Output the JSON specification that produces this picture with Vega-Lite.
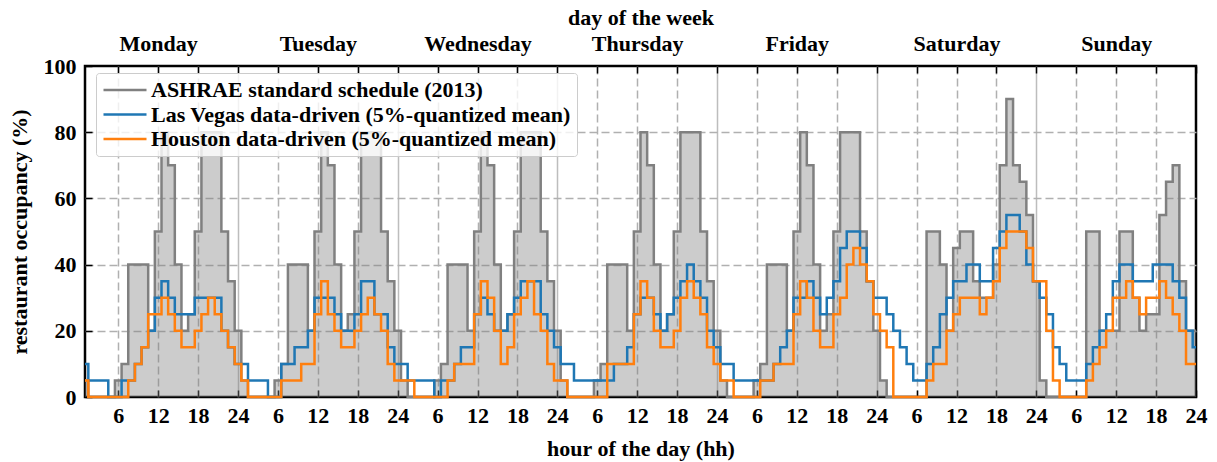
{
  "$schema": "https://vega.github.io/schema/vega-lite/v6.json",
  "width": 1111,
  "height": 331,
  "autosize": {"type": "none"},
  "padding": {"left": 85, "top": 66, "right": 21, "bottom": 65},
  "background": "white",
  "config": {
    "font": "Liberation Serif",
    "view": {"stroke": "black", "strokeWidth": 2.5},
    "axis": {
      "labelFont": "Liberation Serif", "labelFontWeight": "bold", "labelFontSize": 22, "labelColor": "black",
      "titleFont": "Liberation Serif", "titleFontWeight": "bold", "titleFontSize": 22, "titleColor": "black",
      "domain": false, "tickColor": "black", "tickWidth": 1.5, "tickSize": -7,
      "gridColor": "#b0b0b0", "gridWidth": 1.5, "gridOpacity": 1,
      "labelOverlap": false, "labelFlush": false
    }
  },
  "data": {"values": [
    {"x":1,"a":5,"b":10,"o":5},{"x":2,"a":0,"b":5,"o":0},{"x":3,"a":0,"b":5,"o":0},{"x":4,"a":0,"b":5,"o":0},
    {"x":5,"a":0,"b":0,"o":0},{"x":6,"a":5,"b":0,"o":0},{"x":7,"a":10,"b":5,"o":0},{"x":8,"a":40,"b":5,"o":5},
    {"x":9,"a":40,"b":10,"o":10},{"x":10,"a":40,"b":15,"o":15},{"x":11,"a":20,"b":20,"o":25},{"x":12,"a":50,"b":30,"o":25},
    {"x":13,"a":80,"b":35,"o":30},{"x":14,"a":70,"b":30,"o":25},{"x":15,"a":40,"b":25,"o":20},{"x":16,"a":20,"b":25,"o":15},
    {"x":17,"a":25,"b":25,"o":15},{"x":18,"a":50,"b":30,"o":20},{"x":19,"a":80,"b":30,"o":25},{"x":20,"a":80,"b":30,"o":30},
    {"x":21,"a":80,"b":30,"o":25},{"x":22,"a":50,"b":20,"o":20},{"x":23,"a":35,"b":15,"o":15},{"x":24,"a":20,"b":10,"o":10},

    {"x":25,"a":5,"b":10,"o":5},{"x":26,"a":0,"b":5,"o":0},{"x":27,"a":0,"b":5,"o":0},{"x":28,"a":0,"b":5,"o":0},
    {"x":29,"a":0,"b":0,"o":0},{"x":30,"a":5,"b":0,"o":0},{"x":31,"a":10,"b":10,"o":5},{"x":32,"a":40,"b":10,"o":5},
    {"x":33,"a":40,"b":15,"o":5},{"x":34,"a":40,"b":15,"o":10},{"x":35,"a":20,"b":20,"o":10},{"x":36,"a":50,"b":30,"o":25},
    {"x":37,"a":80,"b":30,"o":35},{"x":38,"a":70,"b":30,"o":25},{"x":39,"a":40,"b":25,"o":20},{"x":40,"a":20,"b":20,"o":15},
    {"x":41,"a":25,"b":20,"o":15},{"x":42,"a":50,"b":25,"o":20},{"x":43,"a":80,"b":35,"o":25},{"x":44,"a":80,"b":35,"o":30},
    {"x":45,"a":80,"b":25,"o":25},{"x":46,"a":50,"b":25,"o":20},{"x":47,"a":35,"b":15,"o":10},{"x":48,"a":20,"b":10,"o":5},

    {"x":49,"a":5,"b":10,"o":5},{"x":50,"a":0,"b":5,"o":5},{"x":51,"a":0,"b":5,"o":0},{"x":52,"a":0,"b":5,"o":0},
    {"x":53,"a":0,"b":5,"o":0},{"x":54,"a":5,"b":0,"o":0},{"x":55,"a":10,"b":5,"o":0},{"x":56,"a":40,"b":5,"o":5},
    {"x":57,"a":40,"b":10,"o":10},{"x":58,"a":40,"b":15,"o":10},{"x":59,"a":20,"b":15,"o":10},{"x":60,"a":50,"b":25,"o":25},
    {"x":61,"a":80,"b":30,"o":35},{"x":62,"a":70,"b":25,"o":30},{"x":63,"a":40,"b":20,"o":20},{"x":64,"a":20,"b":20,"o":10},
    {"x":65,"a":25,"b":25,"o":15},{"x":66,"a":50,"b":30,"o":25},{"x":67,"a":80,"b":35,"o":30},{"x":68,"a":80,"b":35,"o":35},
    {"x":69,"a":80,"b":35,"o":25},{"x":70,"a":50,"b":25,"o":20},{"x":71,"a":35,"b":20,"o":10},{"x":72,"a":20,"b":15,"o":5},

    {"x":73,"a":5,"b":10,"o":5},{"x":74,"a":0,"b":10,"o":0},{"x":75,"a":0,"b":5,"o":0},{"x":76,"a":0,"b":5,"o":0},
    {"x":77,"a":0,"b":5,"o":0},{"x":78,"a":5,"b":5,"o":0},{"x":79,"a":10,"b":5,"o":0},{"x":80,"a":40,"b":5,"o":10},
    {"x":81,"a":40,"b":10,"o":10},{"x":82,"a":40,"b":10,"o":10},{"x":83,"a":20,"b":15,"o":10},{"x":84,"a":50,"b":25,"o":25},
    {"x":85,"a":80,"b":30,"o":35},{"x":86,"a":70,"b":30,"o":30},{"x":87,"a":40,"b":25,"o":20},{"x":88,"a":20,"b":20,"o":15},
    {"x":89,"a":25,"b":25,"o":15},{"x":90,"a":50,"b":30,"o":20},{"x":91,"a":80,"b":35,"o":30},{"x":92,"a":80,"b":40,"o":35},
    {"x":93,"a":80,"b":35,"o":30},{"x":94,"a":50,"b":30,"o":25},{"x":95,"a":35,"b":20,"o":15},{"x":96,"a":20,"b":15,"o":10},

    {"x":97,"a":5,"b":10,"o":5},{"x":98,"a":0,"b":10,"o":5},{"x":99,"a":0,"b":5,"o":0},{"x":100,"a":0,"b":5,"o":0},
    {"x":101,"a":0,"b":5,"o":0},{"x":102,"a":5,"b":5,"o":0},{"x":103,"a":10,"b":5,"o":5},{"x":104,"a":40,"b":5,"o":5},
    {"x":105,"a":40,"b":10,"o":10},{"x":106,"a":40,"b":15,"o":10},{"x":107,"a":20,"b":20,"o":10},{"x":108,"a":50,"b":30,"o":25},
    {"x":109,"a":80,"b":30,"o":35},{"x":110,"a":70,"b":35,"o":30},{"x":111,"a":40,"b":30,"o":20},{"x":112,"a":20,"b":25,"o":15},
    {"x":113,"a":25,"b":30,"o":15},{"x":114,"a":50,"b":35,"o":25},{"x":115,"a":80,"b":45,"o":30},{"x":116,"a":80,"b":50,"o":40},
    {"x":117,"a":80,"b":50,"o":45},{"x":118,"a":50,"b":45,"o":40},{"x":119,"a":35,"b":35,"o":35},{"x":120,"a":20,"b":30,"o":25},

    {"x":121,"a":5,"b":30,"o":20},{"x":122,"a":0,"b":25,"o":15},{"x":123,"a":0,"b":20,"o":0},{"x":124,"a":0,"b":15,"o":0},
    {"x":125,"a":0,"b":10,"o":0},{"x":126,"a":0,"b":5,"o":0},{"x":127,"a":0,"b":5,"o":0},{"x":128,"a":50,"b":10,"o":5},
    {"x":129,"a":50,"b":15,"o":10},{"x":130,"a":40,"b":25,"o":10},{"x":131,"a":20,"b":30,"o":20},{"x":132,"a":45,"b":35,"o":25},
    {"x":133,"a":50,"b":35,"o":30},{"x":134,"a":50,"b":40,"o":30},{"x":135,"a":35,"b":40,"o":30},{"x":136,"a":30,"b":35,"o":25},
    {"x":137,"a":30,"b":35,"o":30},{"x":138,"a":40,"b":45,"o":35},{"x":139,"a":70,"b":50,"o":45},{"x":140,"a":90,"b":55,"o":50},
    {"x":141,"a":70,"b":55,"o":50},{"x":142,"a":65,"b":50,"o":50},{"x":143,"a":55,"b":40,"o":45},{"x":144,"a":35,"b":35,"o":35},

    {"x":145,"a":5,"b":30,"o":35},{"x":146,"a":0,"b":25,"o":20},{"x":147,"a":0,"b":15,"o":5},{"x":148,"a":0,"b":10,"o":0},
    {"x":149,"a":0,"b":5,"o":0},{"x":150,"a":0,"b":5,"o":0},{"x":151,"a":0,"b":5,"o":0},{"x":152,"a":50,"b":10,"o":5},
    {"x":153,"a":50,"b":15,"o":10},{"x":154,"a":20,"b":20,"o":15},{"x":155,"a":20,"b":25,"o":20},{"x":156,"a":20,"b":35,"o":30},
    {"x":157,"a":50,"b":40,"o":30},{"x":158,"a":50,"b":40,"o":35},{"x":159,"a":30,"b":35,"o":30},{"x":160,"a":20,"b":35,"o":25},
    {"x":161,"a":25,"b":35,"o":30},{"x":162,"a":25,"b":40,"o":30},{"x":163,"a":55,"b":40,"o":35},{"x":164,"a":65,"b":40,"o":30},
    {"x":165,"a":70,"b":35,"o":25},{"x":166,"a":35,"b":30,"o":20},{"x":167,"a":20,"b":20,"o":10},{"x":168,"a":20,"b":15,"o":10}
  ]},
  "layer": [
    {
      "mark": {"type": "area", "interpolate": "step", "color": "#808080", "opacity": 0.4},
      "encoding": {
        "x": {
          "field": "x", "type": "quantitative",
          "scale": {"domain": [1, 168], "nice": false, "zero": false},
          "axis": {
            "orient": "bottom",
            "values": [6,12,18,24,30,36,42,48,54,60,66,72,78,84,90,96,102,108,114,120,126,132,138,144,150,156,162,168],
            "labelExpr": "datum.value % 24 == 0 ? '24' : '' + (datum.value % 24)",
            "title": "hour of the day (hh)",
            "grid": true,
            "gridDash": {"condition": {"test": "datum.value % 24 == 0", "value": []}, "value": [8, 4]},
            "gridColor": {"condition": {"test": "datum.value % 24 == 0", "value": "#bdbdbd"}, "value": "#b0b0b0"},
            "gridOpacity": {"condition": {"test": "datum.value >= 168", "value": 0}, "value": 1},
            "labelPadding": 15, "titlePadding": 12
          }
        },
        "y": {
          "field": "a", "type": "quantitative",
          "scale": {"domain": [0, 100], "nice": false},
          "axis": {
            "values": [0,20,40,60,80,100], "title": "restaurant occupancy (%)", "grid": true,
            "gridDash": [8, 4],
            "gridOpacity": {"condition": {"test": "datum.value == 0 || datum.value == 100", "value": 0}, "value": 1},
            "labelPadding": 16, "titlePadding": 12
          }
        }
      }
    },
    {
      "transform": [{"fold": ["a", "b", "o"], "as": ["s", "v"]}],
      "mark": {"type": "line", "interpolate": "step", "strokeWidth": 2.5},
      "encoding": {
        "x": {
          "field": "x", "type": "quantitative",
          "axis": {
            "orient": "top",
            "values": [6,12,18,24,30,36,42,48,54,60,66,72,78,84,90,96,102,108,114,120,126,132,138,144,150,156,162,168],
            "labelExpr": "datum.value % 24 == 12 ? ['Monday','Tuesday','Wednesday','Thursday','Friday','Saturday','Sunday'][floor(datum.value / 24)] : ''",
            "title": "day of the week",
            "grid": false,
            "labelPadding": 18, "titlePadding": 3
          }
        },
        "y": {
          "field": "v", "type": "quantitative",
          "axis": {
            "values": [0,20,40,60,80,100], "title": "restaurant occupancy (%)", "grid": true,
            "gridDash": [8, 4],
            "gridOpacity": {"condition": {"test": "datum.value == 0 || datum.value == 100", "value": 0}, "value": 1},
            "labelPadding": 16, "titlePadding": 12
          }
        },
        "color": {
          "field": "s", "type": "nominal",
          "scale": {"domain": ["a", "b", "o"], "range": ["#808080", "#1f77b4", "#ff7f0e"]},
          "legend": {
            "title": null, "orient": "none", "legendX": 11, "legendY": 7,
            "labelExpr": "datum.value == 'a' ? 'ASHRAE standard schedule (2013)' : datum.value == 'b' ? 'Las Vegas data-driven (5%-quantized mean)' : 'Houston data-driven (5%-quantized mean)'",
            "symbolType": "stroke", "symbolSize": 1850, "symbolStrokeWidth": 2.5,
            "clipHeight": 22,
            "labelFont": "Liberation Serif", "labelFontWeight": "bold", "labelFontSize": 22, "labelColor": "black",
            "labelLimit": 800, "labelOffset": 3,
            "fillColor": "rgba(255,255,255,0.8)", "strokeColor": "#cccccc", "padding": 6, "rowPadding": 2.5, "cornerRadius": 3
          }
        }
      }
    }
  ],
  "resolve": {"axis": {"x": "independent"}}
}
